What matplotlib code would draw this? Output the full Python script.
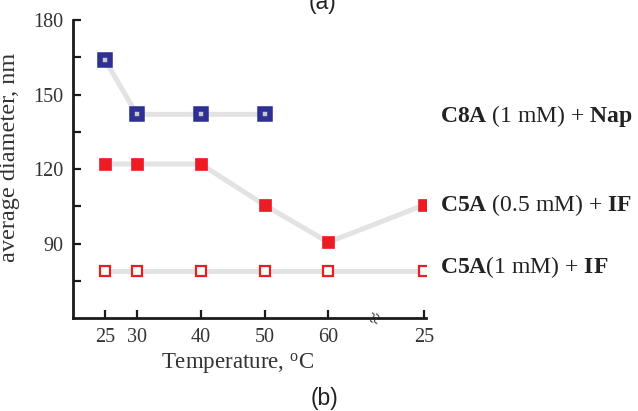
import matplotlib
matplotlib.use("Agg")
import matplotlib.pyplot as plt

plt.rcParams['font.family'] = ['Liberation Serif', 'DejaVu Serif']
plt.rcParams['mathtext.fontset'] = 'custom'
plt.rcParams['mathtext.rm'] = 'Liberation Serif'
plt.rcParams['mathtext.bf'] = 'Liberation Serif:bold'
plt.rcParams['mathtext.it'] = 'Liberation Serif:italic'

# ---- data ----
x_pos = [25, 30, 40, 50, 60, 75]
x_labels = ['25', '30', '40', '50', '60', '25']
c8a_x = [25, 30, 40, 50]
c8a_y = [164, 142, 142, 142]
c5a05_x = [25, 30, 40, 50, 60, 75]
c5a05_y = [122, 122, 122, 105.5, 90.5, 105.5]
c5a1_x = [25, 30, 40, 50, 60, 75]
c5a1_y = [79, 79, 79, 79, 79, 79]
y_major = [90, 120, 150, 180]
y_minor = [75, 105, 135, 165]

fig = plt.figure(figsize=(6.38, 4.11), dpi=100)
ax = fig.add_axes([73/638, 1-318/411, (426-73)/638, (318-20)/411])

line_c = '#e3e3e3'
lw = 3.6
blue = '#2e3192'
red = '#ed1c24'

ax.plot(c8a_x, c8a_y, color=line_c, lw=lw, zorder=1, solid_capstyle='butt')
ax.plot(c5a05_x, c5a05_y, color=line_c, lw=lw, zorder=1, solid_capstyle='butt')
ax.plot(c5a1_x, c5a1_y, color=line_c, lw=lw, zorder=1, solid_capstyle='butt')

ax.plot(c8a_x, c8a_y, ls='none', marker='s', ms=7.8, mfc='#c9c9c9', mec=blue, mew=4.0, zorder=3)
ax.plot(c5a05_x, c5a05_y, ls='none', marker='s', ms=9.0, mfc=red, mec=red, mew=0.5, zorder=3)
ax.plot(c5a1_x, c5a1_y, ls='none', marker='s', ms=7.8, mfc='white', mec=red, mew=1.6, zorder=3)

ax.set_xlim(20, 75.3)
ax.set_ylim(60, 180)
ax.set_xticks(x_pos)
ax.set_xticklabels(x_labels)
ax.set_yticks(y_major)
ax.set_yticks(y_minor, minor=True)

for s in ['top', 'right']:
    ax.spines[s].set_visible(False)
for s in ['left', 'bottom']:
    ax.spines[s].set_linewidth(2.0)
    ax.spines[s].set_color('#1a1a1a')

ax.tick_params(axis='both', which='both', direction='in', length=5.5, width=1.6,
               color='#1a1a1a', labelsize=14.5, labelcolor='#333333')
ax.tick_params(axis='y', which='both', pad=7)
ax.tick_params(axis='x', which='both', pad=7)

ax.set_xlabel('Temperature, $^{\\rm o}$C', fontsize=16.5, color='#333333')
ax.xaxis.set_label_coords(0.467, -0.11)
ax.set_ylabel('average diameter, nm', fontsize=17.5, color='#333333')
ax.yaxis.set_label_coords(-0.15, 0.539)

# axis break symbol
ax.text(67.7, 60, '\u2248', rotation=75, ha='center', va='center', fontsize=15,
        color='#333333', clip_on=False, zorder=5)

lab_kw = dict(fontsize=17, color='#222222', va='center', ha='left',
              textcoords='offset points', annotation_clip=False)
ax.annotate('$\\mathbf{C8A}$ (1 mM) + $\\mathbf{Nap}$', xy=(c8a_x[-1], c8a_y[-1]),
            xytext=(126, -1), **lab_kw)
ax.annotate('$\\mathbf{C5A}$ (0.5 mM) + $\\mathbf{IF}$', xy=(c5a05_x[-1], c5a05_y[-1]),
            xytext=(11.5, 0), **lab_kw)
ax.annotate('$\\mathbf{C5A}$(1 mM) + $\\mathbf{IF}$', xy=(c5a1_x[-1], c5a1_y[-1]),
            xytext=(11.5, 2.5), **lab_kw)

fig.text(322/638, 1-3/411, '(a)', family='Liberation Sans', fontsize=16.5,
         color='#222222', ha='center', va='center')
fig.text(324/638, 1-398/411, '(b)', family='Liberation Sans', fontsize=16.5,
         color='#222222', ha='center', va='center')

fig.savefig('out.png', dpi=100)
